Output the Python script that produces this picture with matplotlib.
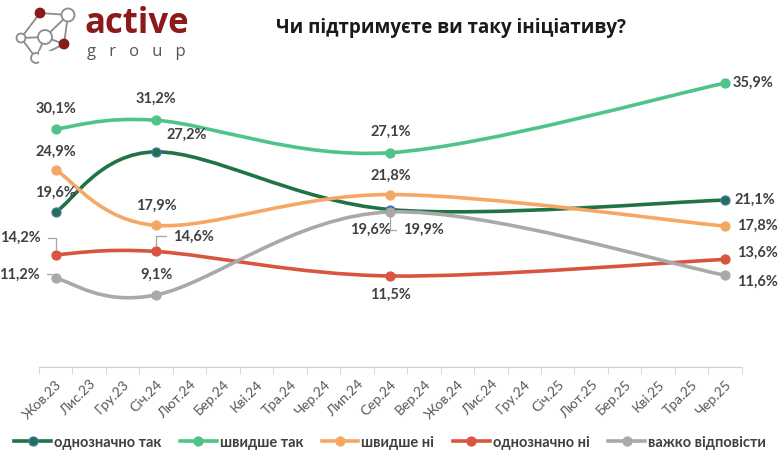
import matplotlib.pyplot as plt
from matplotlib.path import Path
from matplotlib.patches import PathPatch, Circle
from matplotlib.lines import Line2D

months = ['Жов.23', 'Лис.23', 'Гру.23', 'Січ.24', 'Лют.24', 'Бер.24', 'Кві.24',
          'Тра.24', 'Чер.24', 'Лип.24', 'Сер.24', 'Вер.24', 'Жов.24', 'Лис.24',
          'Гру.24', 'Січ.25', 'Лют.25', 'Бер.25', 'Кві.25', 'Тра.25', 'Чер.25']
survey_months = ['Жов.23', 'Січ.24', 'Сер.24', 'Чер.25']

names = ['однозначно так', 'швидше так', 'швидше ні', 'однозначно ні', 'важко відповісти']
definitely_yes = [19.6, 27.2, 19.9, 21.1]
rather_yes = [30.1, 31.2, 27.1, 35.9]
rather_no = [24.9, 17.9, 21.8, 17.8]
definitely_no = [14.2, 14.6, 11.5, 13.6]
hard_to_say = [11.2, 9.1, 19.6, 11.6]
series = [definitely_yes, rather_yes, rather_no, definitely_no, hard_to_say]
colors = ['#217346', '#4fc48a', '#f5a863', '#d9553f', '#a9a9a9']

# label offsets in pixels (dx, dy, ha, leader)
offsets = [
    [(0, 19, 'center', False), (31, 17, 'center', False), (33, -20, 'center', True), (9, 0, 'left', False)],
    [(0, 20, 'center', False), (0, 21, 'center', False), (0, 21, 'center', False), (8, 0, 'left', False)],
    [(0, 18, 'center', False), (0, 20, 'center', False), (0, 19, 'center', False), (12, 0, 'left', False)],
    [(-35, 17, 'center', True), (37, 15, 'center', True), (0, -19, 'center', False), (12, 7, 'left', False)],
    [(-36, 4, 'center', True), (0, 20, 'center', False), (-20, -18, 'center', True), (12, -7, 'left', False)],
]

plt.rcParams['font.family'] = ['Lato', 'DejaVu Sans']

xs = [months.index(m) for m in survey_months]


def smooth_path(x, y):
    # Catmull-Rom style bezier, like Excel's smoothed line
    px = [x[0]] + list(x) + [x[-1]]
    py = [y[0]] + list(y) + [y[-1]]
    verts = [(x[0], y[0])]
    codes = [Path.MOVETO]
    for i in range(1, len(px) - 2):
        c1 = (px[i] + (px[i + 1] - px[i - 1]) / 6, py[i] + (py[i + 1] - py[i - 1]) / 6)
        c2 = (px[i + 1] - (px[i + 2] - px[i]) / 6, py[i + 1] - (py[i + 2] - py[i]) / 6)
        verts += [c1, c2, (px[i + 1], py[i + 1])]
        codes += [Path.CURVE4] * 3
    return Path(verts, codes)


fig = plt.figure(figsize=(7.8, 4.65), dpi=100)
ax = fig.add_axes([0.05, 0.211, 0.901, 0.68])

for k, vals in enumerate(series):
    ax.add_patch(PathPatch(smooth_path(xs, vals), fill=False, edgecolor=colors[k],
                           lw=2.6, capstyle='round', zorder=2 + k * 0.1))
    mec = '#4472c4' if k == 0 else colors[k]
    ax.plot(xs, vals, 'o', color=colors[k], ms=6.5, mec=mec, mew=0.9, zorder=3 + k * 0.1)
    for j, v in enumerate(vals):
        dx, dy, ha, leader = offsets[k][j]
        txt = f'{v:.1f}%'.replace('.', ',')
        arrow = None
        if leader:
            arrow = dict(arrowstyle='-', color='#a6a6a6', lw=0.9,
                         shrinkA=3, shrinkB=4,
                         connectionstyle='angle,angleA=0,angleB=90,rad=0')
        ax.annotate(txt, (xs[j], v), xytext=(dx, dy), textcoords='offset pixels',
                    ha=ha, va='center', fontsize=10.5, fontweight='bold',
                    color='#404040', arrowprops=arrow, zorder=5)

ax.set_xlim(-0.5, len(months) - 0.5)
ax.set_ylim(0, 40)
ax.set_xticks(range(len(months)))
ax.set_xticklabels(months, rotation=45, ha='right', rotation_mode='anchor',
                   fontsize=10, color='#595959')
ax.set_xticks([i - 0.5 for i in range(len(months) + 1)], minor=True)
ax.tick_params(axis='x', which='major', length=0, pad=8)
ax.tick_params(axis='x', which='minor', length=5, color='#d0d0d0')
ax.set_yticks([])
for s in ['top', 'right', 'left']:
    ax.spines[s].set_visible(False)
ax.spines['bottom'].set_color('#d0d0d0')

handles = []
for k in range(5):
    mec = '#4472c4' if k == 0 else colors[k]
    handles.append(Line2D([], [], color=colors[k], lw=2.6, marker='o', ms=6.5,
                          mec=mec, mew=0.9))
leg = fig.legend(handles, names, loc='lower center', bbox_to_anchor=(0.5, 0.005),
                 ncol=5, frameon=False, handlelength=2.5, columnspacing=1.3,
                 handletextpad=0.2, prop=dict(size=10.5, weight='bold'))
for t in leg.get_texts():
    t.set_color('#404040')

fig.text(0.578, 0.94, 'Чи підтримуєте ви таку ініціативу?', ha='center', va='center',
         fontsize=13.5, fontweight='bold', color='#1a1a1a', family='Open Sans')

# logo
lg = fig.add_axes([0, 0, 1, 1], zorder=-1)
lg.set_xlim(0, 780)
lg.set_ylim(465, 0)
lg.axis('off')
nodes = {'a': (40, 13), 'b': (68, 15), 'c': (21, 38), 'd': (45, 37), 'e': (64, 44), 'f': (36, 58)}
edges = [('a', 'b'), ('a', 'c'), ('b', 'e'), ('b', 'd'), ('c', 'd'), ('c', 'f'),
         ('d', 'e'), ('f', 'e'), ('d', 'f')]
for u, w in edges:
    lg.plot([nodes[u][0], nodes[w][0]], [nodes[u][1], nodes[w][1]], color='#8c8c8c', lw=1.3)
radii = {'a': 4.5, 'b': 6.5, 'c': 4.5, 'd': 7, 'e': 4.5, 'f': 5}
for n, (cx, cy) in nodes.items():
    red = n in ('a', 'e')
    lg.add_patch(Circle((cx, cy), radii[n], facecolor='#8b1a1a' if red else 'white',
                        edgecolor='#8b1a1a' if red else '#8c8c8c', lw=1.3, zorder=3))
fig.text(0.108, 0.948, 'active', fontsize=25, fontweight='bold', color='#8b1a1a',
         ha='left', va='center', family='Open Sans')
fig.text(0.111, 0.888, 'g   r   o   u   p', fontsize=12, color='#555555', ha='left',
         va='center', family='Open Sans')

fig.savefig('out.png', dpi=100)
